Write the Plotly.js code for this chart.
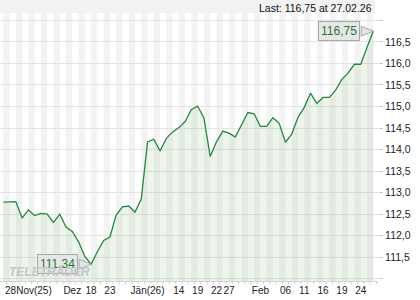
<!DOCTYPE html>
<html><head><meta charset="utf-8">
<script src="https://cdn.plot.ly/plotly-3.0.1.min.js"></script>
<style>html,body{margin:0;padding:0;background:#fff}#chart{width:420px;height:300px}</style>
</head><body><div id="chart"></div>
<script>
const dates = [
 '2025-11-28',
 '2025-12-01','2025-12-02','2025-12-03','2025-12-04','2025-12-05',
 '2025-12-08','2025-12-09','2025-12-10','2025-12-11','2025-12-12',
 '2025-12-15','2025-12-16','2025-12-17','2025-12-18','2025-12-19',
 '2025-12-22','2025-12-23','2025-12-29','2025-12-30',
 '2026-01-02',
 '2026-01-05','2026-01-06','2026-01-07','2026-01-08','2026-01-09',
 '2026-01-12','2026-01-13','2026-01-14','2026-01-15','2026-01-16',
 '2026-01-19','2026-01-20','2026-01-21','2026-01-22','2026-01-23',
 '2026-01-26','2026-01-27','2026-01-28','2026-01-29','2026-01-30',
 '2026-02-02','2026-02-03','2026-02-04','2026-02-05','2026-02-06',
 '2026-02-09','2026-02-10','2026-02-11','2026-02-12','2026-02-13',
 '2026-02-16','2026-02-17','2026-02-18','2026-02-19','2026-02-20',
 '2026-02-23','2026-02-24','2026-02-25','2026-02-26'
];
const values = [
 112.78,
 112.79,112.79,112.41,112.60,112.47,
 112.52,112.50,112.31,112.50,112.20,
 112.10,111.86,111.52,111.34,111.63,
 111.89,111.97,112.48,112.67,
 112.69,
 112.55,112.85,114.18,114.24,113.97,
 114.26,114.41,114.51,114.65,114.93,
 115.01,114.73,113.84,114.18,114.43,
 114.38,114.29,114.57,114.86,114.83,
 114.54,114.54,114.74,114.61,114.17,
 114.36,114.75,114.98,115.31,115.07,
 115.21,115.21,115.38,115.63,115.78,
 115.98,115.98,116.37,116.75
];
const tickDates = ['2025-12-04','2025-12-15','2025-12-18','2025-12-23','2026-01-07','2026-01-14','2026-01-19','2026-01-22','2026-01-26','2026-02-02','2026-02-06','2026-02-11','2026-02-16','2026-02-19','2026-02-24'];
const tickLabels = ['28Nov(25)','Dez','18','23','Jän(26)','14','19','22','27','Feb','06','11','16','19','24'];
const yTickVals = [111,111.5,112,112.5,113,113.5,114,114.5,115,115.5,116,116.5,117];
const yTickLabels = ['','111,5','112,0','112,5','113,0','113,5','114,0','114,5','115,0','115,5','116,0','116,5',''];
const headerText = 'Last: 116,75 at 27.02.26';
const watermark = 'TELETRADER';

const FONT = 'Liberation Sans, Arial, sans-serif';
const lineColor = '#23893b';
const fmt = v => v.toFixed(2).replace('.', ',');

let iMin = 0, iMax = 0;
values.forEach((v, i) => { if (v < values[iMin]) iMin = i; if (v > values[iMax]) iMax = i; });

const shapes = [];
for (let i = 0; i < dates.length; i += 2) {
  shapes.push({type:'rect', xref:'x', yref:'paper', x0:i, x1:i+1, y0:0, y1:1,
    fillcolor:'#f3f3f3', line:{width:0}, layer:'below'});
}
for (let i = 0; i < dates.length; i++) {
  shapes.push({type:'line', xref:'x', yref:'paper', x0:i+0.5, x1:i+0.5, y0:0, y1:-0.012,
    line:{color:'#cfcfcf', width:1}});
}
shapes.push({type:'rect', xref:'paper', yref:'paper', x0:0, x1:0.992, y0:1, y1:1.05,
  fillcolor:'#f2f2f2', line:{width:0}, layer:'below'});
[iMin, iMax].forEach(i => {
  shapes.push({type:'path', xref:'x', yref:'y', xsizemode:'pixel', ysizemode:'pixel',
    xanchor:i, yanchor:values[i], path:'M -12 5 L 0 0 L -12 -5 Z',
    fillcolor:'#e4e4e4', line:{color:'#a8a8a8', width:1}, layer:'above'});
});

const annotations = [];
[iMin, iMax].forEach(i => {
  annotations.push({xref:'x', yref:'y', x:i, y:values[i], text:fmt(values[i]), showarrow:false,
    xshift:-34, yshift:0, bgcolor:'#e6e6e6', bordercolor:'#a8a8a8', borderwidth:1, borderpad:2,
    font:{family:FONT, size:12, color:'#1c7a30'}});
});
annotations.push({xref:'paper', yref:'paper', x:0.018, y:0.035, xanchor:'left', yanchor:'middle',
  text:'<b><i>'+watermark+'</i></b>', showarrow:false,
  font:{family:FONT, size:12, color:'#c6c6c6'}});
annotations.push({xref:'paper', yref:'paper', x:0.99, y:1.019, xanchor:'right', yanchor:'middle',
  text:headerText, showarrow:false, font:{family:FONT, size:10.5, color:'#111'}});

const trace = {
  x: dates, y: values, type:'scatter', mode:'lines',
  line:{color:lineColor, width:1.3}, fill:'tozeroy', fillcolor:'rgba(60,140,60,0.09)',
  hoverinfo:'skip'
};

const layout = {
  width:420, height:300,
  margin:{l:0, r:42, t:13, b:19},
  paper_bgcolor:'#ffffff', plot_bgcolor:'#ffffff',
  showlegend:false,
  xaxis:{type:'category', range:[-0.53, 59.76], tickmode:'array', tickvals:tickDates, ticktext:tickLabels,
    tickangle:0, showgrid:false, zeroline:false, showline:true, linecolor:'#d3d3d3', linewidth:1,
    ticks:'', tickfont:{family:FONT, size:10, color:'#222'}, fixedrange:true},
  yaxis:{side:'right', range:[110.95, 117.17], tickmode:'array', tickvals:yTickVals, ticktext:yTickLabels,
    showgrid:true, gridcolor:'#e3e3e3', gridwidth:1, zeroline:false, showline:false,
    ticks:'outside', ticklen:4, tickcolor:'#c8c8c8', tickfont:{family:FONT, size:10.5, color:'#222'}, fixedrange:true},
  shapes:shapes, annotations:annotations
};

Plotly.newPlot('chart', [trace], layout, {displayModeBar:false, staticPlot:true});
</script>
</body></html>
